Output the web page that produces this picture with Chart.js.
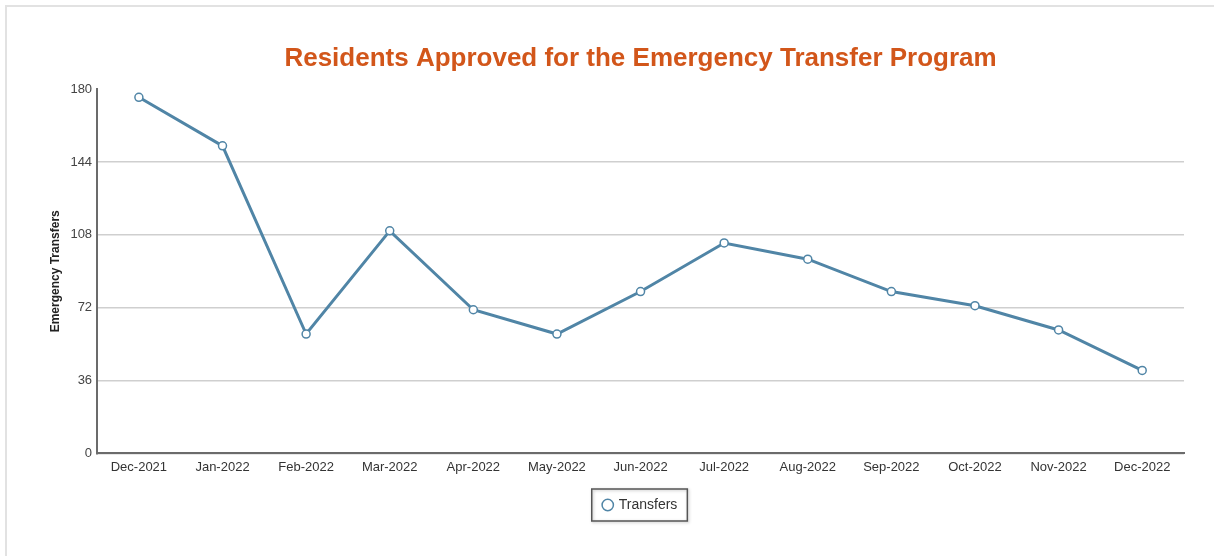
<!DOCTYPE html>
<html>
<head>
<meta charset="utf-8">
<script src="https://cdn.jsdelivr.net/npm/chart.js@4.4.0/dist/chart.umd.min.js"></script>
<style>
  html, body { margin: 0; padding: 0; background: #fff; }
  #wrap { position: relative; width: 1214px; height: 556px; }
  #frame { position: absolute; left: 5px; top: 5px; width: 1220px; height: 560px;
           border-top: 2px solid #e2e2e2; border-left: 2px solid #e2e2e2; }
  canvas { position: absolute; left: 0; top: 0; }
</style>
</head>
<body>
<div id="wrap">
  <div id="frame"></div>
  <canvas id="myChart" width="1214" height="556"></canvas>
</div>
<script>
const meses = ["Dec-2021", "Jan-2022", "Feb-2022", "Mar-2022", "Apr-2022", "May-2022", "Jun-2022",
  "Jul-2022", "Aug-2022", "Sep-2022", "Oct-2022", "Nov-2022", "Dec-2022"];
const transfers = [176, 152, 59, 110, 71, 59, 80, 104, 96, 80, 73, 61, 41];
const yTicks = [0, 36, 72, 108, 144, 180];

const azul = "#5085a6";
const fuente = "Liberation Sans, Arial, sans-serif";

// caja alrededor de la leyenda
const legendBox = {
  id: "legendBox",
  afterDraw(chart) {
    const lg = chart.legend;
    if (!lg || !lg.legendHitBoxes || !lg.legendHitBoxes.length) return;
    const hb = lg.legendHitBoxes[0];
    const ctx = chart.ctx;
    ctx.save();
    ctx.shadowColor = "rgba(0,0,0,0.25)";
    ctx.shadowBlur = 3;
    ctx.shadowOffsetX = 1;
    ctx.shadowOffsetY = 1;
    ctx.strokeStyle = "#555";
    ctx.lineWidth = 1.5;
    ctx.strokeRect(hb.left - 12, hb.top - 9, hb.width + 22, hb.height + 18);
    ctx.restore();
  }
};

const ctx = document.getElementById("myChart").getContext("2d");
const myChart = new Chart(ctx, {
  type: "line",
  data: {
    labels: meses,
    datasets: [{
      label: "Transfers",
      data: transfers,
      borderColor: azul,
      borderWidth: 3,
      backgroundColor: "#fff",
      pointBackgroundColor: "#fff",
      pointBorderColor: azul,
      pointBorderWidth: 1.5,
      pointRadius: 4,
      tension: 0,
      fill: false
    }]
  },
  options: {
    responsive: false,
    animation: false,
    layout: { padding: { left: 48, right: 30, top: 0, bottom: 34 } },
    plugins: {
      title: {
        display: true,
        text: "Residents Approved for the Emergency Transfer Program",
        color: "#d2561a",
        fullSize: false,
        font: { family: fuente, size: 26, weight: "bold" },
        padding: { top: 43, bottom: 15 }
      },
      legend: {
        position: "bottom",
        fullSize: false,
        labels: {
          usePointStyle: true,
          pointStyle: "circle",
          boxWidth: 8,
          boxHeight: 8,
          color: "#333",
          padding: 17,
          font: { family: fuente, size: 14 }
        }
      },
      tooltip: { enabled: false }
    },
    scales: {
      x: {
        offset: true,
        grid: { display: false, drawTicks: false },
        border: { display: true, color: "#6b6b6b", width: 2 },
        ticks: {
          color: "#333",
          padding: 6,
          maxRotation: 0,
          autoSkip: false,
          font: { family: fuente, size: 13 }
        }
      },
      y: {
        min: 0,
        max: 180,
        afterBuildTicks: function (axis) {
          axis.ticks = yTicks.map(v => ({ value: v }));
        },
        grid: {
          drawTicks: false,
          color: function (c) {
            return (c.tick && c.tick.value === 180) ? "rgba(0,0,0,0)" : "#cfcfcf";
          },
          lineWidth: 1.5
        },
        border: { display: true, color: "#6b6b6b", width: 2 },
        title: {
          display: true,
          text: "Emergency Transfers",
          color: "#222",
          padding: { top: 0, bottom: 3 },
          font: { family: fuente, size: 12, weight: "bold" }
        },
        ticks: {
          color: "#444",
          padding: 5,
          font: { family: fuente, size: 13 }
        }
      }
    }
  },
  plugins: [legendBox]
});
</script>
</body>
</html>
